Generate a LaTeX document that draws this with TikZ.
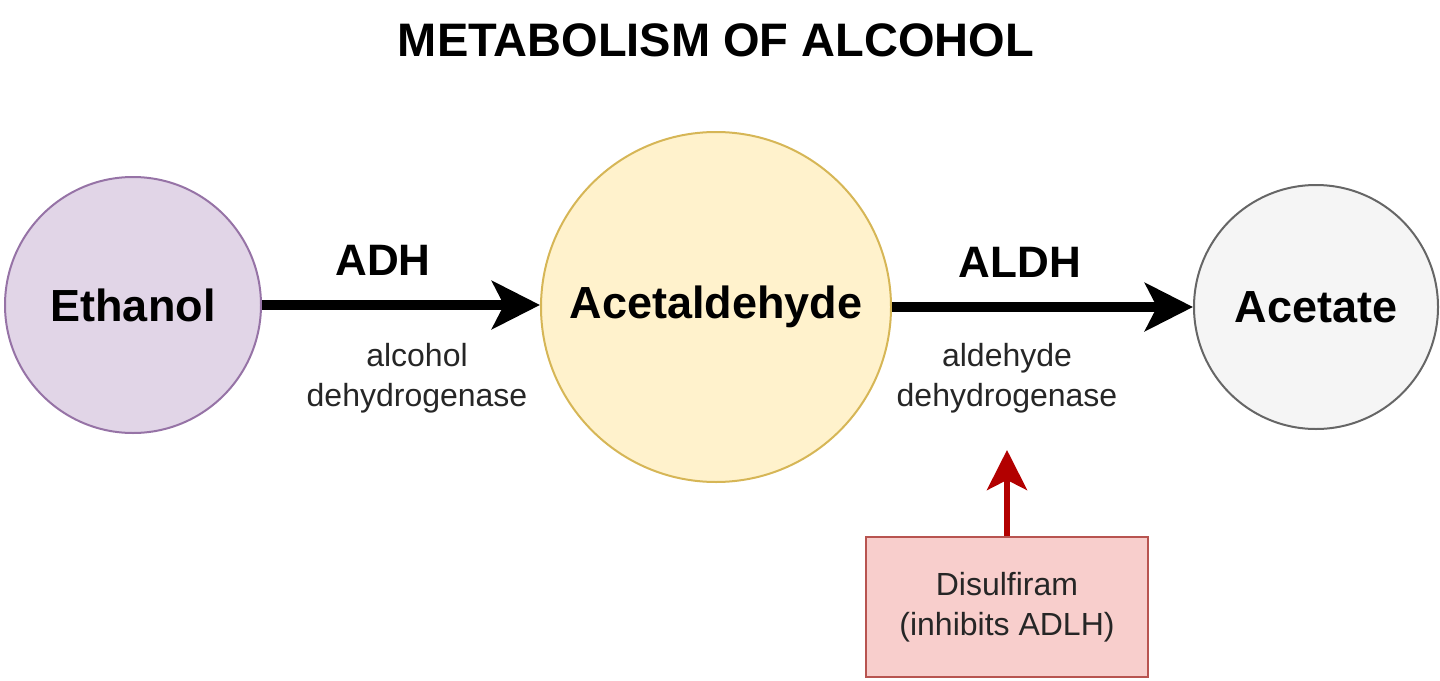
\documentclass[tikz,border=0pt]{standalone}
\usepackage{fontspec}
\setmainfont{Liberation Sans}
\usetikzlibrary{arrows.meta}
\definecolor{purf}{HTML}{E1D5E7}\definecolor{purd}{HTML}{9673A6}
\definecolor{yelf}{HTML}{FFF2CC}\definecolor{yeld}{HTML}{D6B656}
\definecolor{gryf}{HTML}{F5F5F5}\definecolor{gryd}{HTML}{666666}
\definecolor{redf}{HTML}{F8CECC}\definecolor{redd}{HTML}{B85450}
\definecolor{redarr}{HTML}{B20000}
\tikzset{
 circ/.style={circle,draw,line width=1pt,inner sep=0pt,font=\fontsize{22.5}{26}\selectfont\bfseries},
 big/.style={font=\fontsize{22}{26}\selectfont\bfseries},
 small/.style={font=\fontsize{16}{20}\selectfont,align=center,text=black!85},
 flow/.style={line width=5pt,-{Stealth[length=24pt,width=24pt,inset=6pt]}}
}
\begin{document}
\begin{tikzpicture}[x=0.5pt,y=-0.5pt]
\useasboundingbox (0,0) rectangle (1440,680);
\node[font=\fontsize{23.5}{26}\selectfont\bfseries] (title) at (716,40) {METABOLISM OF ALCOHOL};
\node[circ,fill=purf,draw=purd,minimum size=128pt] (eth) at (133,305) {Ethanol};
\node[circ,fill=yelf,draw=yeld,minimum size=175pt] (acd) at (716,307) {Acetaldehyde};
\node[circ,fill=gryf,draw=gryd,minimum size=122pt] (act) at (1316,307) {Acetate};
\draw[flow] (eth.east) -- (eth.east -| acd.west);
\draw[flow] (acd.east) -- (act.west);
\node[big] (adh) at (383,260) {ADH};
\node[big] (aldh) at (1020,262) {ALDH};
\node[small] (adhd) at (417,378) {alcohol\\dehydrogenase};
\node[small] (aldhd) at (1007,378) {aldehyde\\dehydrogenase};
\node[small,draw=redd,fill=redf,line width=1pt,minimum width=141pt,minimum height=70pt,text=black!85] (dis) at (1007,607) {Disulfiram\\(inhibits ADLH)};
\coordinate (tip) at (1007,450);
\draw[redarr,line width=3pt,-{Stealth[length=20pt,width=20pt,inset=5pt]}] (dis.north) -- (tip);
\end{tikzpicture}
\end{document}
